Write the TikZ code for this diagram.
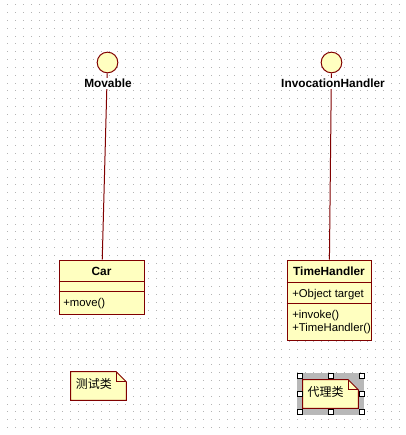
\documentclass[tikz,border=0pt]{standalone}
\usepackage{fontspec}
\setmainfont{Liberation Sans}
\newfontfamily\cjk{Noto Sans CJK SC}
\definecolor{roseyellow}{HTML}{FFFFC0}
\definecolor{rosered}{HTML}{800000}
\definecolor{rosegrid}{HTML}{B4B4B4}

\begin{document}
\begin{tikzpicture}[x=0.75pt,y=-0.75pt]

  \tikzstyle{iface}=[draw=rosered, fill=roseyellow, circle, inner sep=0pt,
                     minimum size=15.5pt, line width=0.75pt]
  \tikzstyle{ifacename}=[fill=white, inner sep=1pt, anchor=base,
                         font=\bfseries\fontsize{8.9}{10}\selectfont]
  \tikzstyle{classbox}=[draw=rosered, fill=roseyellow, inner sep=0pt, line width=0.75pt]
  \tikzstyle{classname}=[inner sep=0pt, anchor=base,
                         font=\bfseries\fontsize{8.9}{10}\selectfont]
  \tikzstyle{member}=[inner sep=0pt, anchor=base west, font=\fontsize{8.5}{10}\selectfont]
  \tikzstyle{realize}=[draw=rosered, line width=0.75pt]
  \tikzstyle{notebox}=[inner sep=0pt, minimum width=41.25pt, minimum height=21pt]
  \tikzstyle{notetext}=[inner sep=0pt, anchor=base west, font=\cjk\fontsize{9}{10}\selectfont]
  \tikzstyle{handle}=[draw=black, fill=white, inner sep=0pt, minimum size=3.75pt,
                      line width=0.75pt]

  \useasboundingbox (0,0) rectangle (406,435);

  % dot grid
  \foreach \i in {0,...,51}
    \foreach \j in {0,...,55}
      \fill[rosegrid] (7.3+\i*7.83, 4.3+\j*7.83) rectangle ++(1,1);

  \path
  (107.5,62.5) node[iface](movable){}
  (331.5,62.5) node[iface](invhandler){};

  \path
  (101.5,287) node[classbox, minimum width=63.75pt, minimum height=40.5pt](car){}
  (329,  300) node[classbox, minimum width=63pt, minimum height=60pt](timehandler){};

  \draw[realize] ([yshift=-16.5pt]car.north west) -- ([yshift=-16.5pt]car.north east);
  \draw[realize] ([yshift=-24pt]car.north west) -- ([yshift=-24pt]car.north east);
  \draw[realize] ([yshift=-17.25pt]timehandler.north west) -- ([yshift=-17.25pt]timehandler.north east);
  \draw[realize] ([yshift=-33pt]timehandler.north west) -- ([yshift=-33pt]timehandler.north east);

  \draw[realize] (movable)--(car);
  \draw[realize] (invhandler)--(timehandler);

  \path
  (108,  87.7) node[ifacename](movlabel){Movable}
  (333,  87.7) node[ifacename](invlabel){InvocationHandler};

  \path
  (101.5,275)  node[classname](carname){Car}
  (63,   306)  node[member](carop){+move()};

  \path
  (329,  275.5) node[classname](thname){TimeHandler}
  (292,  297)   node[member](thattr){+Object target}
  (292,  318)   node[member](thop1){+invoke()}
  (292,  331.5) node[member](thop2){+TimeHandler()};

  \path
  (98.5, 386) node[notebox](testnote){}
  (330.5,394) node[notebox](proxynote){};

  \fill[black!28] (297,373) rectangle (364,415);

  \filldraw[realize, fill=roseyellow] (testnote.north west) -- ([xshift=-7.5pt]testnote.north east)
    -- ([yshift=-7.5pt]testnote.north east) -- (testnote.south east) -- (testnote.south west) -- cycle;
  \draw[realize] ([xshift=-7.5pt]testnote.north east) |- ([yshift=-7.5pt]testnote.north east);
  \filldraw[realize, fill=roseyellow] (proxynote.north west) -- ([xshift=-7.5pt]proxynote.north east)
    -- ([yshift=-7.5pt]proxynote.north east) -- (proxynote.south east) -- (proxynote.south west) -- cycle;
  \draw[realize] ([xshift=-7.5pt]proxynote.north east) |- ([yshift=-7.5pt]proxynote.north east);

  \path
  (75.5, 388) node[notetext](testtext){测试类}
  (307.3,396) node[notetext](proxytext){代理类};

  \foreach \hx/\hy [count=\k] in {299.5/376, 330.5/376, 361.5/376, 299.5/394,
                                 361.5/394, 299.5/412, 330.5/412, 361.5/412}
    \node[handle](handle\k) at (\hx,\hy){};

\end{tikzpicture}
\end{document}
